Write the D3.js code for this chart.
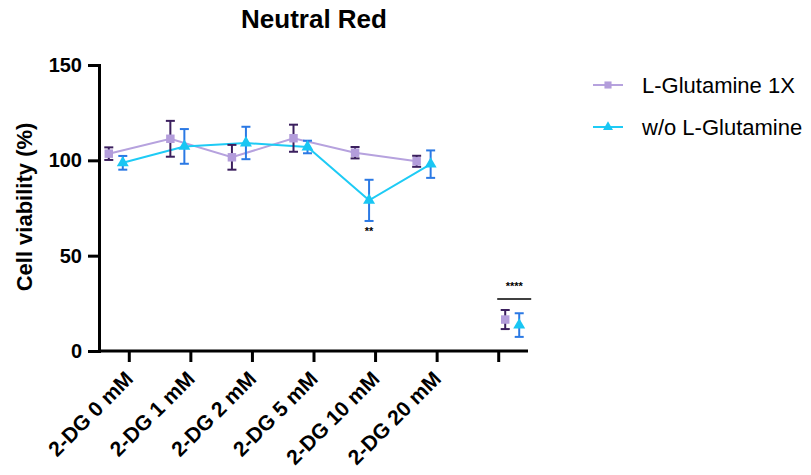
<!DOCTYPE html>
<html>
<head>
<meta charset="utf-8">
<script src="https://cdn.jsdelivr.net/npm/d3@7"></script>
<style>
	body { margin: 0; background: #fff; }
	text { font-family: "Liberation Sans", Arial, sans-serif; }
</style>
</head>
<body>
<script>
// chart data
var categories = ["2-DG 0 mM", "2-DG 1 mM", "2-DG 2 mM", "2-DG 5 mM", "2-DG 10 mM", "2-DG 20 mM", ""];
var glnMean = [103.5, 111.3, 101.6, 111.6, 104.0, 99.5, 16.5];
var glnSD = [3.3, 9.4, 6.5, 7.1, 3.0, 2.9, 5.0];
var noGlnMean = [98.7, 107.3, 109.1, 107.0, 79.0, 98.0, 13.6];
var noGlnSD = [3.6, 9.1, 8.5, 3.3, 10.8, 7.2, 6.2];
var yTicks = [0, 50, 100, 150];
var seriesNames = ["L-Glutamine 1X", "w/o L-Glutamine"];

var width = 811, height = 475;

var svg = d3.select("body").append("svg")
	.attr("width", width)
	.attr("height", height);

var x = d3.scalePoint().domain(categories).range([98, 529]).padding(0.5);
var y = d3.scaleLinear().domain([0, 150]).range([351, 65]);

// series styling
var series = [
	{ name: seriesNames[0], mean: glnMean, sd: glnSD, line: "#b6a2de", fill: "#b39ddb", err: "#3b1f5e",
		symbol: d3.symbolSquare, size: 72, dodge: -20 },
	{ name: seriesNames[1], mean: noGlnMean, sd: noGlnSD, line: "#1ecbf5", fill: "#19c6f3", err: "#2b79e4",
		symbol: d3.symbolTriangle, size: 62, dodge: -6 }
];
var lastShift = 27; // the last group is drawn right of its tick

function px(i, s) {
	return x(categories[i]) + s.dodge + (i === categories.length - 1 ? lastShift : 0);
}

// axes
var yAxis = svg.append("g")
	.attr("transform", "translate(99,0)")
	.call(d3.axisLeft(y).tickValues(yTicks).tickSize(11).tickPadding(6));
var xAxis = svg.append("g")
	.attr("transform", "translate(0,351)")
	.call(d3.axisBottom(x).tickSize(11).tickSizeOuter(0));

xAxis.select(".domain").attr("d", "M99,0H528");
[yAxis, xAxis].forEach(function(a) {
	a.selectAll("path, line").attr("stroke", "#000").attr("stroke-width", 3);
});
yAxis.selectAll("text")
	.attr("font-size", 20).attr("font-weight", "bold").attr("fill", "#000")
	.attr("font-family", "Liberation Sans, Arial, sans-serif");
xAxis.selectAll("text")
	.attr("font-size", 21).attr("font-weight", "bold").attr("fill", "#000")
	.attr("font-family", "Liberation Sans, Arial, sans-serif")
	.attr("text-anchor", "end")
	.attr("dy", "0.35em")
	.attr("transform", "translate(0,24) rotate(-45)")
	.attr("x", 0).attr("y", 0);

// y axis title
svg.append("text")
	.attr("transform", "translate(32,207) rotate(-90)")
	.attr("text-anchor", "middle")
	.attr("font-size", 22).attr("font-weight", "bold")
	.text("Cell viability (%)");

// title
svg.append("text")
	.attr("x", 314).attr("y", 28)
	.attr("text-anchor", "middle")
	.attr("font-size", 26).attr("font-weight", "bold")
	.text("Neutral Red");

// connecting lines (first six groups)
series.forEach(function(s) {
	var line = d3.line()
		.x(function(d, i) { return px(i, s); })
		.y(function(d) { return y(d); });
	svg.append("path")
		.datum(s.mean.slice(0, categories.length - 1))
		.attr("d", line)
		.attr("fill", "none")
		.attr("stroke", s.line)
		.attr("stroke-width", 2);
});

// error bars and markers
series.forEach(function(s) {
	var g = svg.append("g");
	s.mean.forEach(function(m, i) {
		var cx = px(i, s);
		var top = y(m + s.sd[i]), bot = y(m - s.sd[i]);
		g.append("line").attr("x1", cx).attr("x2", cx).attr("y1", top).attr("y2", bot)
			.attr("stroke", s.err).attr("stroke-width", 2);
		[top, bot].forEach(function(yy) {
			g.append("line").attr("x1", cx - 4.5).attr("x2", cx + 4.5).attr("y1", yy).attr("y2", yy)
				.attr("stroke", s.err).attr("stroke-width", 2);
		});
		g.append("path")
			.attr("d", d3.symbol().type(s.symbol).size(s.size))
			.attr("transform", "translate(" + cx + "," + y(m) + ")")
			.attr("fill", s.fill);
	});
});

// significance marks
var s2 = series[1];
svg.append("text")
	.attr("x", px(4, s2)).attr("y", y(noGlnMean[4] - noGlnSD[4]) + 14)
	.attr("text-anchor", "middle")
	.attr("font-size", 11).attr("font-weight", "bold")
	.text("**");

var last = categories.length - 1;
var barY = y(Math.max(glnMean[last] + glnSD[last], noGlnMean[last] + noGlnSD[last])) - 11;
svg.append("line")
	.attr("x1", px(last, series[0]) - 8).attr("x2", px(last, s2) + 12)
	.attr("y1", barY).attr("y2", barY)
	.attr("stroke", "#000").attr("stroke-width", 1.5);
svg.append("text")
	.attr("x", (px(last, series[0]) + px(last, s2)) / 2 + 2).attr("y", barY - 9)
	.attr("text-anchor", "middle")
	.attr("font-size", 11).attr("font-weight", "bold")
	.text("****");

// legend
var legend = svg.append("g").attr("transform", "translate(593,85)");
series.forEach(function(s, i) {
	var row = legend.append("g").attr("transform", "translate(0," + (i * 42) + ")");
	row.append("line").attr("x1", 0).attr("x2", 30).attr("y1", 0).attr("y2", 0)
		.attr("stroke", s.line).attr("stroke-width", 2);
	row.append("path")
		.attr("d", d3.symbol().type(s.symbol).size(s.size * 0.7))
		.attr("transform", "translate(15,0)")
		.attr("fill", s.fill);
	row.append("text")
		.attr("x", 49).attr("y", 0).attr("dy", "0.35em")
		.attr("font-size", 22)
		.text(s.name);
});
</script>
</body>
</html>
